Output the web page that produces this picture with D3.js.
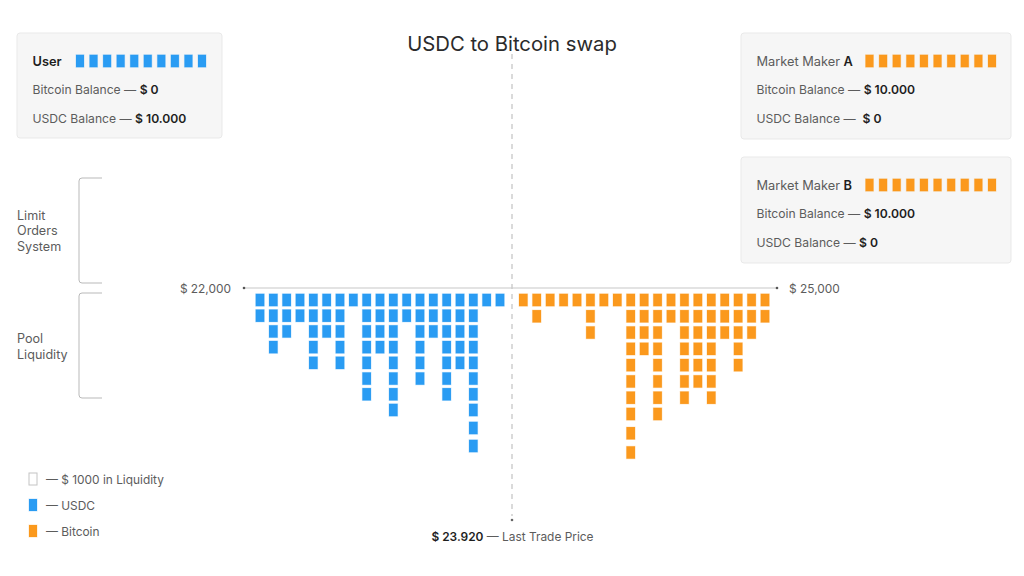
<!doctype html>
<html lang="en">
<head>
<meta charset="utf-8">
<title>USDC to Bitcoin swap</title>
<script src="https://d3js.org/d3.v7.min.js"></script>
<style>
  html, body { margin: 0; background: #fff; }
  text { font-family: Inter, "Noto Sans", sans-serif; fill: #5c5c5c; font-size: 11.9px; dominant-baseline: central; }
  .strong { fill: #1e1e1e; font-weight: 600; }
</style>
</head>
<body>
<div id="main"></div>
<script>
const usdcCounts = [2, 4, 3, 2, 5, 3, 5, 1, 7, 4, 8, 2, 6, 3, 7, 5, 10, 1, 1]
const btcCounts = [1, 2, 1, 1, 1, 3, 1, 1, 10, 4, 8, 2, 7, 6, 7, 3, 5, 3, 2]
const priceEnds = [22000, 25000]
const priceLabels = ['$ 22,000', '$ 25,000']
const walletUnits = d3.range(10)

const cards = [
  {x: 17, y: 33, w: 205, h: 105, unitX: [80, 202], colour: 'usdc',
   head: [['User', true]], btc: ['Bitcoin Balance — ', '$ 0'], usd: ['USDC Balance — ', '$ 10.000']},
  {x: 741, y: 33, w: 270, h: 106, unitX: [869.5, 992], colour: 'btc',
   head: [['Market Maker ', false], ['A', true]], btc: ['Bitcoin Balance — ', '$ 10.000'], usd: ['USDC Balance —  ', '$ 0']},
  {x: 741, y: 157, w: 270, h: 106, unitX: [869.5, 992], colour: 'btc',
   head: [['Market Maker ', false], ['B', true]], btc: ['Bitcoin Balance — ', '$ 10.000'], usd: ['USDC Balance — ', '$ 0']}
]
const colours = {usdc: '#2a9cf3', btc: '#fb991d'}

const svg = d3.select('#main').append('svg')
  .attr('width', 1024).attr('height', 576)
  .style('display', 'block')

// x scales, one each side of the last trade price
const priceScale = d3.scaleLinear().domain(priceEnds).range([244, 777])
const usdcX = d3.scalePoint().domain(d3.range(usdcCounts.length)).range([260, 500])
const btcX = d3.scalePoint().domain(d3.range(btcCounts.length)).range([523.3, 765])
// the lowest rows drift apart a little in the original
const usdcY = d3.scaleLinear().domain([0, 7, 9]).range([300, 410, 446])
const btcY = d3.scaleLinear().domain([0, 7, 9]).range([300, 414, 452.5])

const unit = (sel, x, y, colour, w = 8.6, h = 12.4) => sel.append('rect')
  .attr('x', x - w / 2).attr('y', y - h / 2)
  .attr('width', w).attr('height', h)
  .attr('fill', colour)
  .attr('stroke', colour).attr('stroke-opacity', 0.25)

// centre dashed line and price axis
svg.append('line').attr('x1', 512).attr('x2', 512).attr('y1', 54).attr('y2', 516)
  .attr('stroke', '#c2c2c2').attr('stroke-width', 1.2).attr('stroke-dasharray', '5 5')
svg.append('circle').attr('cx', 512).attr('cy', 520).attr('r', 1.3).attr('fill', '#666')
svg.append('line').attr('x1', priceScale(22000)).attr('x2', priceScale(25000)).attr('y1', 288).attr('y2', 288)
  .attr('stroke', '#c8c8c8').attr('stroke-width', 1.2)
svg.selectAll('.end').data(priceEnds).enter().append('circle')
  .attr('cx', d => priceScale(d)).attr('cy', 288).attr('r', 1.3).attr('fill', '#555')
svg.selectAll('.price').data(priceEnds).enter().append('text')
  .attr('x', (d, i) => priceScale(d) + (i ? 12 : -13))
  .attr('y', 288)
  .attr('text-anchor', (d, i) => i ? 'start' : 'end')
  .text((d, i) => priceLabels[i])

// liquidity columns
usdcCounts.forEach((n, i) => d3.range(n).forEach(r => unit(svg, usdcX(i), usdcY(r), colours.usdc)))
btcCounts.forEach((n, i) => d3.range(n).forEach(r => unit(svg, btcX(i), btcY(r), colours.btc)))

// wallet cards
cards.forEach(c => {
  const g = svg.append('g')
  g.append('rect').attr('x', c.x).attr('y', c.y).attr('width', c.w).attr('height', c.h)
    .attr('rx', 3).attr('fill', '#f6f6f6').attr('stroke', '#e9e9e9')
  const head = g.append('text').attr('x', c.x + 15.5).attr('y', c.y + 27.5).style('font-size', '12.8px')
  c.head.forEach(p => head.append('tspan').attr('class', p[1] ? 'strong' : null).text(p[0]))
  const row = (p, dy) => {
    const t = g.append('text').attr('x', c.x + 15.5).attr('y', c.y + dy).attr('xml:space', 'preserve')
      .style('font-size', '12.15px')
    t.append('tspan').text(p[0])
    t.append('tspan').attr('class', 'strong').text(p[1])
  }
  row(c.btc, 56)
  row(c.usd, 84.5)
  const ux = d3.scalePoint().domain(walletUnits).range(c.unitX)
  walletUnits.forEach(u => unit(g, ux(u), c.y + 28, colours[c.colour], 8, 12.4))
})

// title
svg.append('text').attr('x', 512).attr('y', 43).attr('text-anchor', 'middle')
  .style('font-size', '20.3px').style('fill', '#2b2b2b').text('USDC to Bitcoin swap')

// brackets on the left
const bracket = (y0, y1) => svg.append('path')
  .attr('d', `M102,${y0}H82a3,3 0 0 0 -3,3V${y1 - 3}a3,3 0 0 0 3,3H102`)
  .attr('fill', 'none').attr('stroke', '#b9b9b9').attr('stroke-width', 1)
bracket(178, 283)
bracket(293, 398)
const stack = (lines, y0) => lines.forEach((l, i) => svg.append('text').attr('x', 17).attr('y', y0 + i * 15.6)
  .style('font-size', '12.6px').text(l))
stack(['Limit', 'Orders', 'System'], 215)
stack(['Pool', 'Liquidity'], 338.5)

// legend
const legend = [['— $ 1000 in Liquidity', null], ['— USDC', 'usdc'], ['— Bitcoin', 'btc']]
const legendY = d3.scalePoint().domain(legend.map(d => d[0])).range([479, 531])
legend.forEach(d => {
  if (d[1]) unit(svg, 33, legendY(d[0]), colours[d[1]], 8, 12)
  else svg.append('rect').attr('x', 29).attr('y', legendY(d[0]) - 6).attr('width', 8).attr('height', 12)
    .attr('fill', '#fff').attr('stroke', '#c4c4c4')
  svg.append('text').attr('x', 46).attr('y', legendY(d[0])).text(d[0])
})

// last trade price label
const last = svg.append('text').attr('x', 512.5).attr('y', 536).attr('text-anchor', 'middle')
last.append('tspan').attr('class', 'strong').text('$ 23.920')
last.append('tspan').text(' — Last Trade Price')
</script>
</body>
</html>
